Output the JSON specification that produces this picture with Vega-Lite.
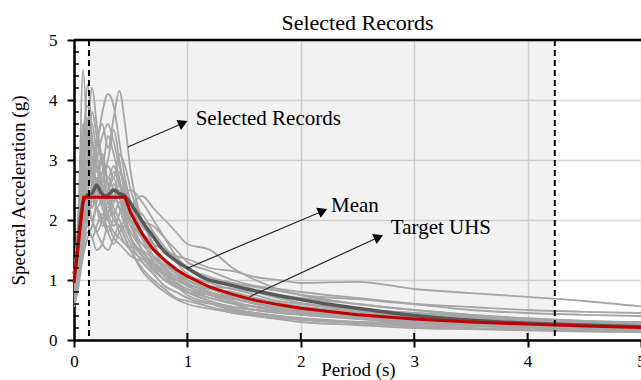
{
"$schema":"https://vega.github.io/schema/vega-lite/v6.json",
"width":567,"height":300,
"autosize":{"type":"none"},
"padding":{"left":74,"top":40,"right":0,"bottom":40},
"background":"white",
"view":{"stroke":null},
"config":{"font":"Liberation Serif",
 "axis":{"domainColor":"black","domainWidth":2.5,"tickColor":"black","tickWidth":2,"tickSize":7,"gridColor":"#d9d9d9","gridWidth":1.5,"labelFont":"Liberation Serif","labelFontSize":17,"labelColor":"black","titleFont":"Liberation Serif","titleFontSize":19,"titleFontWeight":"normal","titleColor":"black","labelFlush":false,"labelOverlap":false}},
"datasets":{
"rec":[
{"r":1,"t":0,"a":0.95},{"r":1,"t":0.04,"a":2.2},{"r":1,"t":0.08,"a":4.5},{"r":1,"t":0.12,"a":3.2},{"r":1,"t":0.16,"a":2.6},{"r":1,"t":0.2,"a":2.9},{"r":1,"t":0.25,"a":2.5},{"r":1,"t":0.3,"a":2.2},{"r":1,"t":0.35,"a":2.6},{"r":1,"t":0.4,"a":2.4},{"r":1,"t":0.45,"a":2.0},{"r":1,"t":0.5,"a":1.8},{"r":1,"t":0.6,"a":1.5},{"r":1,"t":0.7,"a":1.2},{"r":1,"t":0.8,"a":1.0},{"r":1,"t":0.9,"a":0.95},{"r":1,"t":1,"a":0.85},{"r":1,"t":1.2,"a":0.7},{"r":1,"t":1.4,"a":0.6},{"r":1,"t":1.6,"a":0.5},{"r":1,"t":1.8,"a":0.45},{"r":1,"t":2,"a":0.42},{"r":1,"t":2.5,"a":0.35},{"r":1,"t":3,"a":0.28},{"r":1,"t":3.5,"a":0.25},{"r":1,"t":4,"a":0.22},{"r":1,"t":4.5,"a":0.2},{"r":1,"t":5,"a":0.18},
{"r":2,"t":0,"a":0.9},{"r":2,"t":0.04,"a":1.8},{"r":2,"t":0.08,"a":3.0},{"r":2,"t":0.12,"a":4.25},{"r":2,"t":0.16,"a":3.4},{"r":2,"t":0.2,"a":2.8},{"r":2,"t":0.25,"a":3.1},{"r":2,"t":0.3,"a":2.6},{"r":2,"t":0.35,"a":2.3},{"r":2,"t":0.4,"a":2.5},{"r":2,"t":0.45,"a":2.1},{"r":2,"t":0.5,"a":1.7},{"r":2,"t":0.6,"a":1.4},{"r":2,"t":0.7,"a":1.3},{"r":2,"t":0.8,"a":1.1},{"r":2,"t":0.9,"a":0.9},{"r":2,"t":1,"a":0.8},{"r":2,"t":1.2,"a":0.75},{"r":2,"t":1.4,"a":0.62},{"r":2,"t":1.6,"a":0.55},{"r":2,"t":1.8,"a":0.5},{"r":2,"t":2,"a":0.45},{"r":2,"t":2.5,"a":0.38},{"r":2,"t":3,"a":0.3},{"r":2,"t":3.5,"a":0.28},{"r":2,"t":4,"a":0.25},{"r":2,"t":4.5,"a":0.22},{"r":2,"t":5,"a":0.2},
{"r":3,"t":0,"a":0.8},{"r":3,"t":0.04,"a":1.4},{"r":3,"t":0.08,"a":2.2},{"r":3,"t":0.12,"a":2.6},{"r":3,"t":0.16,"a":2.9},{"r":3,"t":0.2,"a":3.3},{"r":3,"t":0.25,"a":3.6},{"r":3,"t":0.3,"a":3.2},{"r":3,"t":0.35,"a":3.7},{"r":3,"t":0.4,"a":4.15},{"r":3,"t":0.45,"a":3.6},{"r":3,"t":0.5,"a":2.8},{"r":3,"t":0.6,"a":2.0},{"r":3,"t":0.7,"a":1.6},{"r":3,"t":0.8,"a":1.3},{"r":3,"t":0.9,"a":1.1},{"r":3,"t":1,"a":0.95},{"r":3,"t":1.2,"a":0.8},{"r":3,"t":1.4,"a":0.7},{"r":3,"t":1.6,"a":0.65},{"r":3,"t":1.8,"a":0.6},{"r":3,"t":2,"a":0.55},{"r":3,"t":2.5,"a":0.45},{"r":3,"t":3,"a":0.38},{"r":3,"t":3.5,"a":0.32},{"r":3,"t":4,"a":0.28},{"r":3,"t":4.5,"a":0.25},{"r":3,"t":5,"a":0.22},
{"r":4,"t":0,"a":0.85},{"r":4,"t":0.04,"a":1.6},{"r":4,"t":0.08,"a":2.5},{"r":4,"t":0.12,"a":3.0},{"r":4,"t":0.16,"a":2.7},{"r":4,"t":0.2,"a":3.2},{"r":4,"t":0.25,"a":3.8},{"r":4,"t":0.3,"a":4.1},{"r":4,"t":0.35,"a":3.9},{"r":4,"t":0.4,"a":3.3},{"r":4,"t":0.45,"a":2.7},{"r":4,"t":0.5,"a":2.3},{"r":4,"t":0.6,"a":1.8},{"r":4,"t":0.7,"a":1.4},{"r":4,"t":0.8,"a":1.2},{"r":4,"t":0.9,"a":1.05},{"r":4,"t":1,"a":0.9},{"r":4,"t":1.2,"a":0.75},{"r":4,"t":1.4,"a":0.62},{"r":4,"t":1.6,"a":0.55},{"r":4,"t":1.8,"a":0.5},{"r":4,"t":2,"a":0.46},{"r":4,"t":2.5,"a":0.4},{"r":4,"t":3,"a":0.34},{"r":4,"t":3.5,"a":0.3},{"r":4,"t":4,"a":0.27},{"r":4,"t":4.5,"a":0.24},{"r":4,"t":5,"a":0.21},
{"r":5,"t":0,"a":0.7},{"r":5,"t":0.04,"a":1.3},{"r":5,"t":0.08,"a":2.4},{"r":5,"t":0.12,"a":3.5},{"r":5,"t":0.16,"a":4.2},{"r":5,"t":0.2,"a":3.6},{"r":5,"t":0.25,"a":3.0},{"r":5,"t":0.3,"a":2.7},{"r":5,"t":0.35,"a":2.9},{"r":5,"t":0.4,"a":2.6},{"r":5,"t":0.45,"a":2.3},{"r":5,"t":0.5,"a":2.0},{"r":5,"t":0.6,"a":1.6},{"r":5,"t":0.7,"a":1.5},{"r":5,"t":0.8,"a":1.3},{"r":5,"t":0.9,"a":1.15},{"r":5,"t":1,"a":1.0},{"r":5,"t":1.2,"a":0.85},{"r":5,"t":1.4,"a":0.75},{"r":5,"t":1.6,"a":0.62},{"r":5,"t":1.8,"a":0.55},{"r":5,"t":2,"a":0.5},{"r":5,"t":2.5,"a":0.42},{"r":5,"t":3,"a":0.35},{"r":5,"t":3.5,"a":0.3},{"r":5,"t":4,"a":0.27},{"r":5,"t":4.5,"a":0.24},{"r":5,"t":5,"a":0.22},
{"r":6,"t":0,"a":0.6},{"r":6,"t":0.04,"a":1.0},{"r":6,"t":0.08,"a":1.5},{"r":6,"t":0.12,"a":1.8},{"r":6,"t":0.16,"a":1.7},{"r":6,"t":0.2,"a":1.5},{"r":6,"t":0.25,"a":1.6},{"r":6,"t":0.3,"a":1.9},{"r":6,"t":0.35,"a":1.7},{"r":6,"t":0.4,"a":1.6},{"r":6,"t":0.45,"a":1.5},{"r":6,"t":0.5,"a":1.4},{"r":6,"t":0.6,"a":1.3},{"r":6,"t":0.7,"a":1.1},{"r":6,"t":0.8,"a":0.9},{"r":6,"t":0.9,"a":0.8},{"r":6,"t":1,"a":0.7},{"r":6,"t":1.2,"a":0.6},{"r":6,"t":1.4,"a":0.5},{"r":6,"t":1.6,"a":0.45},{"r":6,"t":1.8,"a":0.4},{"r":6,"t":2,"a":0.35},{"r":6,"t":2.5,"a":0.28},{"r":6,"t":3,"a":0.22},{"r":6,"t":3.5,"a":0.19},{"r":6,"t":4,"a":0.17},{"r":6,"t":4.5,"a":0.15},{"r":6,"t":5,"a":0.14},
{"r":7,"t":0,"a":0.75},{"r":7,"t":0.04,"a":1.4},{"r":7,"t":0.08,"a":2.0},{"r":7,"t":0.12,"a":2.4},{"r":7,"t":0.16,"a":2.2},{"r":7,"t":0.2,"a":2.5},{"r":7,"t":0.25,"a":2.2},{"r":7,"t":0.3,"a":2.0},{"r":7,"t":0.35,"a":2.3},{"r":7,"t":0.4,"a":2.6},{"r":7,"t":0.45,"a":2.4},{"r":7,"t":0.5,"a":2.2},{"r":7,"t":0.6,"a":1.9},{"r":7,"t":0.7,"a":1.7},{"r":7,"t":0.8,"a":1.5},{"r":7,"t":0.9,"a":1.3},{"r":7,"t":1,"a":1.1},{"r":7,"t":1.2,"a":0.95},{"r":7,"t":1.4,"a":0.85},{"r":7,"t":1.6,"a":0.8},{"r":7,"t":1.8,"a":0.75},{"r":7,"t":2,"a":0.7},{"r":7,"t":2.5,"a":0.6},{"r":7,"t":3,"a":0.5},{"r":7,"t":3.5,"a":0.42},{"r":7,"t":4,"a":0.36},{"r":7,"t":4.5,"a":0.32},{"r":7,"t":5,"a":0.3},
{"r":8,"t":0,"a":1.0},{"r":8,"t":0.04,"a":1.7},{"r":8,"t":0.08,"a":2.6},{"r":8,"t":0.12,"a":3.0},{"r":8,"t":0.16,"a":2.5},{"r":8,"t":0.2,"a":2.2},{"r":8,"t":0.25,"a":2.4},{"r":8,"t":0.3,"a":2.7},{"r":8,"t":0.35,"a":2.5},{"r":8,"t":0.4,"a":2.2},{"r":8,"t":0.45,"a":2.1},{"r":8,"t":0.5,"a":2.0},{"r":8,"t":0.6,"a":1.8},{"r":8,"t":0.7,"a":1.6},{"r":8,"t":0.8,"a":1.5},{"r":8,"t":0.9,"a":1.4},{"r":8,"t":1,"a":1.35},{"r":8,"t":1.2,"a":1.2},{"r":8,"t":1.4,"a":1.15},{"r":8,"t":1.6,"a":1.05},{"r":8,"t":1.8,"a":1.0},{"r":8,"t":2,"a":0.95},{"r":8,"t":2.5,"a":0.97},{"r":8,"t":3,"a":0.85},{"r":8,"t":3.5,"a":0.78},{"r":8,"t":4,"a":0.72},{"r":8,"t":4.5,"a":0.65},{"r":8,"t":5,"a":0.56},
{"r":9,"t":0,"a":0.65},{"r":9,"t":0.04,"a":1.2},{"r":9,"t":0.08,"a":1.9},{"r":9,"t":0.12,"a":2.3},{"r":9,"t":0.16,"a":2.0},{"r":9,"t":0.2,"a":1.8},{"r":9,"t":0.25,"a":1.6},{"r":9,"t":0.3,"a":1.5},{"r":9,"t":0.35,"a":1.7},{"r":9,"t":0.4,"a":1.9},{"r":9,"t":0.45,"a":1.7},{"r":9,"t":0.5,"a":1.5},{"r":9,"t":0.6,"a":1.2},{"r":9,"t":0.7,"a":1.0},{"r":9,"t":0.8,"a":0.85},{"r":9,"t":0.9,"a":0.7},{"r":9,"t":1,"a":0.65},{"r":9,"t":1.2,"a":0.55},{"r":9,"t":1.4,"a":0.45},{"r":9,"t":1.6,"a":0.4},{"r":9,"t":1.8,"a":0.35},{"r":9,"t":2,"a":0.3},{"r":9,"t":2.5,"a":0.25},{"r":9,"t":3,"a":0.2},{"r":9,"t":3.5,"a":0.18},{"r":9,"t":4,"a":0.16},{"r":9,"t":4.5,"a":0.14},{"r":9,"t":5,"a":0.13},
{"r":10,"t":0,"a":0.9},{"r":10,"t":0.04,"a":1.6},{"r":10,"t":0.08,"a":2.8},{"r":10,"t":0.12,"a":3.4},{"r":10,"t":0.16,"a":3.0},{"r":10,"t":0.2,"a":2.6},{"r":10,"t":0.25,"a":2.8},{"r":10,"t":0.3,"a":3.4},{"r":10,"t":0.35,"a":3.1},{"r":10,"t":0.4,"a":2.7},{"r":10,"t":0.45,"a":2.2},{"r":10,"t":0.5,"a":1.9},{"r":10,"t":0.6,"a":1.6},{"r":10,"t":0.7,"a":1.4},{"r":10,"t":0.8,"a":1.25},{"r":10,"t":0.9,"a":1.1},{"r":10,"t":1,"a":1.0},{"r":10,"t":1.2,"a":0.9},{"r":10,"t":1.4,"a":0.85},{"r":10,"t":1.6,"a":0.75},{"r":10,"t":1.8,"a":0.65},{"r":10,"t":2,"a":0.6},{"r":10,"t":2.5,"a":0.5},{"r":10,"t":3,"a":0.45},{"r":10,"t":3.5,"a":0.4},{"r":10,"t":4,"a":0.35},{"r":10,"t":4.5,"a":0.3},{"r":10,"t":5,"a":0.27},
{"r":11,"t":0,"a":0.8},{"r":11,"t":0.04,"a":1.5},{"r":11,"t":0.08,"a":2.1},{"r":11,"t":0.12,"a":2.8},{"r":11,"t":0.16,"a":3.3},{"r":11,"t":0.2,"a":2.9},{"r":11,"t":0.25,"a":2.5},{"r":11,"t":0.3,"a":2.3},{"r":11,"t":0.35,"a":2.1},{"r":11,"t":0.4,"a":2.3},{"r":11,"t":0.45,"a":2.0},{"r":11,"t":0.5,"a":1.7},{"r":11,"t":0.6,"a":1.4},{"r":11,"t":0.7,"a":1.15},{"r":11,"t":0.8,"a":1.0},{"r":11,"t":0.9,"a":0.88},{"r":11,"t":1,"a":0.8},{"r":11,"t":1.2,"a":0.65},{"r":11,"t":1.4,"a":0.55},{"r":11,"t":1.6,"a":0.5},{"r":11,"t":1.8,"a":0.48},{"r":11,"t":2,"a":0.45},{"r":11,"t":2.5,"a":0.4},{"r":11,"t":3,"a":0.35},{"r":11,"t":3.5,"a":0.3},{"r":11,"t":4,"a":0.25},{"r":11,"t":4.5,"a":0.22},{"r":11,"t":5,"a":0.2},
{"r":12,"t":0,"a":0.7},{"r":12,"t":0.04,"a":1.2},{"r":12,"t":0.08,"a":1.7},{"r":12,"t":0.12,"a":2.0},{"r":12,"t":0.16,"a":2.4},{"r":12,"t":0.2,"a":2.7},{"r":12,"t":0.25,"a":2.4},{"r":12,"t":0.3,"a":2.1},{"r":12,"t":0.35,"a":1.9},{"r":12,"t":0.4,"a":2.1},{"r":12,"t":0.45,"a":2.4},{"r":12,"t":0.5,"a":2.5},{"r":12,"t":0.6,"a":2.3},{"r":12,"t":0.7,"a":2.0},{"r":12,"t":0.8,"a":1.7},{"r":12,"t":0.9,"a":1.4},{"r":12,"t":1,"a":1.2},{"r":12,"t":1.2,"a":1.0},{"r":12,"t":1.4,"a":0.9},{"r":12,"t":1.6,"a":0.8},{"r":12,"t":1.8,"a":0.7},{"r":12,"t":2,"a":0.62},{"r":12,"t":2.5,"a":0.52},{"r":12,"t":3,"a":0.45},{"r":12,"t":3.5,"a":0.38},{"r":12,"t":4,"a":0.33},{"r":12,"t":4.5,"a":0.3},{"r":12,"t":5,"a":0.27},
{"r":13,"t":0,"a":0.85},{"r":13,"t":0.04,"a":1.5},{"r":13,"t":0.08,"a":2.3},{"r":13,"t":0.12,"a":2.7},{"r":13,"t":0.16,"a":3.6},{"r":13,"t":0.2,"a":3.1},{"r":13,"t":0.25,"a":2.7},{"r":13,"t":0.3,"a":3.0},{"r":13,"t":0.35,"a":3.5},{"r":13,"t":0.4,"a":3.0},{"r":13,"t":0.45,"a":2.4},{"r":13,"t":0.5,"a":2.1},{"r":13,"t":0.6,"a":1.7},{"r":13,"t":0.7,"a":1.3},{"r":13,"t":0.8,"a":1.05},{"r":13,"t":0.9,"a":0.9},{"r":13,"t":1,"a":0.75},{"r":13,"t":1.2,"a":0.62},{"r":13,"t":1.4,"a":0.52},{"r":13,"t":1.6,"a":0.45},{"r":13,"t":1.8,"a":0.4},{"r":13,"t":2,"a":0.37},{"r":13,"t":2.5,"a":0.3},{"r":13,"t":3,"a":0.26},{"r":13,"t":3.5,"a":0.23},{"r":13,"t":4,"a":0.2},{"r":13,"t":4.5,"a":0.18},{"r":13,"t":5,"a":0.16},
{"r":14,"t":0,"a":0.55},{"r":14,"t":0.04,"a":0.9},{"r":14,"t":0.08,"a":1.4},{"r":14,"t":0.12,"a":1.7},{"r":14,"t":0.16,"a":1.9},{"r":14,"t":0.2,"a":2.2},{"r":14,"t":0.25,"a":2.0},{"r":14,"t":0.3,"a":1.8},{"r":14,"t":0.35,"a":2.0},{"r":14,"t":0.4,"a":1.8},{"r":14,"t":0.45,"a":1.6},{"r":14,"t":0.5,"a":1.55},{"r":14,"t":0.6,"a":1.5},{"r":14,"t":0.7,"a":1.35},{"r":14,"t":0.8,"a":1.2},{"r":14,"t":0.9,"a":1.05},{"r":14,"t":1,"a":0.95},{"r":14,"t":1.2,"a":0.8},{"r":14,"t":1.4,"a":0.65},{"r":14,"t":1.6,"a":0.55},{"r":14,"t":1.8,"a":0.5},{"r":14,"t":2,"a":0.48},{"r":14,"t":2.5,"a":0.42},{"r":14,"t":3,"a":0.36},{"r":14,"t":3.5,"a":0.33},{"r":14,"t":4,"a":0.3},{"r":14,"t":4.5,"a":0.28},{"r":14,"t":5,"a":0.26},
{"r":15,"t":0,"a":1.05},{"r":15,"t":0.04,"a":2.0},{"r":15,"t":0.08,"a":3.4},{"r":15,"t":0.12,"a":3.9},{"r":15,"t":0.16,"a":3.3},{"r":15,"t":0.2,"a":2.9},{"r":15,"t":0.25,"a":2.6},{"r":15,"t":0.3,"a":2.4},{"r":15,"t":0.35,"a":2.2},{"r":15,"t":0.4,"a":2.0},{"r":15,"t":0.45,"a":1.8},{"r":15,"t":0.5,"a":1.6},{"r":15,"t":0.6,"a":1.3},{"r":15,"t":0.7,"a":1.1},{"r":15,"t":0.8,"a":0.9},{"r":15,"t":0.9,"a":0.8},{"r":15,"t":1,"a":0.7},{"r":15,"t":1.2,"a":0.55},{"r":15,"t":1.4,"a":0.48},{"r":15,"t":1.6,"a":0.42},{"r":15,"t":1.8,"a":0.38},{"r":15,"t":2,"a":0.35},{"r":15,"t":2.5,"a":0.3},{"r":15,"t":3,"a":0.27},{"r":15,"t":3.5,"a":0.24},{"r":15,"t":4,"a":0.22},{"r":15,"t":4.5,"a":0.2},{"r":15,"t":5,"a":0.18},
{"r":16,"t":0,"a":0.7},{"r":16,"t":0.04,"a":1.3},{"r":16,"t":0.08,"a":1.9},{"r":16,"t":0.12,"a":2.2},{"r":16,"t":0.16,"a":2.6},{"r":16,"t":0.2,"a":3.0},{"r":16,"t":0.25,"a":3.4},{"r":16,"t":0.3,"a":3.6},{"r":16,"t":0.35,"a":3.3},{"r":16,"t":0.4,"a":2.9},{"r":16,"t":0.45,"a":2.6},{"r":16,"t":0.5,"a":2.3},{"r":16,"t":0.6,"a":2.0},{"r":16,"t":0.7,"a":1.9},{"r":16,"t":0.8,"a":1.7},{"r":16,"t":0.9,"a":1.5},{"r":16,"t":1,"a":1.3},{"r":16,"t":1.2,"a":1.15},{"r":16,"t":1.4,"a":1.0},{"r":16,"t":1.6,"a":0.9},{"r":16,"t":1.8,"a":0.85},{"r":16,"t":2,"a":0.8},{"r":16,"t":2.5,"a":0.7},{"r":16,"t":3,"a":0.6},{"r":16,"t":3.5,"a":0.5},{"r":16,"t":4,"a":0.45},{"r":16,"t":4.5,"a":0.42},{"r":16,"t":5,"a":0.4},
{"r":17,"t":0,"a":0.9},{"r":17,"t":0.04,"a":1.6},{"r":17,"t":0.08,"a":2.4},{"r":17,"t":0.12,"a":2.2},{"r":17,"t":0.16,"a":2.0},{"r":17,"t":0.2,"a":2.3},{"r":17,"t":0.25,"a":2.6},{"r":17,"t":0.3,"a":2.9},{"r":17,"t":0.35,"a":2.7},{"r":17,"t":0.4,"a":3.1},{"r":17,"t":0.45,"a":2.9},{"r":17,"t":0.5,"a":2.5},{"r":17,"t":0.6,"a":2.0},{"r":17,"t":0.7,"a":1.6},{"r":17,"t":0.8,"a":1.3},{"r":17,"t":0.9,"a":1.15},{"r":17,"t":1,"a":1.0},{"r":17,"t":1.2,"a":0.85},{"r":17,"t":1.4,"a":0.72},{"r":17,"t":1.6,"a":0.62},{"r":17,"t":1.8,"a":0.55},{"r":17,"t":2,"a":0.5},{"r":17,"t":2.5,"a":0.42},{"r":17,"t":3,"a":0.36},{"r":17,"t":3.5,"a":0.32},{"r":17,"t":4,"a":0.28},{"r":17,"t":4.5,"a":0.25},{"r":17,"t":5,"a":0.23},
{"r":18,"t":0,"a":0.6},{"r":18,"t":0.04,"a":1.1},{"r":18,"t":0.08,"a":1.6},{"r":18,"t":0.12,"a":1.9},{"r":18,"t":0.16,"a":1.7},{"r":18,"t":0.2,"a":1.9},{"r":18,"t":0.25,"a":2.1},{"r":18,"t":0.3,"a":1.8},{"r":18,"t":0.35,"a":1.6},{"r":18,"t":0.4,"a":1.8},{"r":18,"t":0.45,"a":1.9},{"r":18,"t":0.5,"a":1.7},{"r":18,"t":0.6,"a":1.4},{"r":18,"t":0.7,"a":1.2},{"r":18,"t":0.8,"a":1.1},{"r":18,"t":0.9,"a":1.0},{"r":18,"t":1,"a":0.9},{"r":18,"t":1.2,"a":0.78},{"r":18,"t":1.4,"a":0.72},{"r":18,"t":1.6,"a":0.66},{"r":18,"t":1.8,"a":0.6},{"r":18,"t":2,"a":0.55},{"r":18,"t":2.5,"a":0.46},{"r":18,"t":3,"a":0.4},{"r":18,"t":3.5,"a":0.36},{"r":18,"t":4,"a":0.32},{"r":18,"t":4.5,"a":0.29},{"r":18,"t":5,"a":0.26},
{"r":19,"t":0,"a":0.8},{"r":19,"t":0.04,"a":1.4},{"r":19,"t":0.08,"a":2.2},{"r":19,"t":0.12,"a":3.1},{"r":19,"t":0.16,"a":3.8},{"r":19,"t":0.2,"a":3.4},{"r":19,"t":0.25,"a":2.9},{"r":19,"t":0.3,"a":2.5},{"r":19,"t":0.35,"a":2.7},{"r":19,"t":0.4,"a":2.4},{"r":19,"t":0.45,"a":2.1},{"r":19,"t":0.5,"a":1.9},{"r":19,"t":0.6,"a":1.5},{"r":19,"t":0.7,"a":1.25},{"r":19,"t":0.8,"a":1.1},{"r":19,"t":0.9,"a":0.95},{"r":19,"t":1,"a":0.85},{"r":19,"t":1.2,"a":0.75},{"r":19,"t":1.4,"a":0.68},{"r":19,"t":1.6,"a":0.6},{"r":19,"t":1.8,"a":0.52},{"r":19,"t":2,"a":0.48},{"r":19,"t":2.5,"a":0.38},{"r":19,"t":3,"a":0.32},{"r":19,"t":3.5,"a":0.27},{"r":19,"t":4,"a":0.24},{"r":19,"t":4.5,"a":0.22},{"r":19,"t":5,"a":0.2},
{"r":20,"t":0,"a":0.95},{"r":20,"t":0.04,"a":1.9},{"r":20,"t":0.08,"a":3.6},{"r":20,"t":0.12,"a":3.3},{"r":20,"t":0.16,"a":2.8},{"r":20,"t":0.2,"a":2.4},{"r":20,"t":0.25,"a":2.7},{"r":20,"t":0.3,"a":2.3},{"r":20,"t":0.35,"a":2.0},{"r":20,"t":0.4,"a":1.9},{"r":20,"t":0.45,"a":1.7},{"r":20,"t":0.5,"a":1.5},{"r":20,"t":0.6,"a":1.15},{"r":20,"t":0.7,"a":0.95},{"r":20,"t":0.8,"a":0.8},{"r":20,"t":0.9,"a":0.68},{"r":20,"t":1,"a":0.6},{"r":20,"t":1.2,"a":0.52},{"r":20,"t":1.4,"a":0.46},{"r":20,"t":1.6,"a":0.4},{"r":20,"t":1.8,"a":0.36},{"r":20,"t":2,"a":0.33},{"r":20,"t":2.5,"a":0.28},{"r":20,"t":3,"a":0.24},{"r":20,"t":3.5,"a":0.2},{"r":20,"t":4,"a":0.18},{"r":20,"t":4.5,"a":0.16},{"r":20,"t":5,"a":0.15},
{"r":21,"t":0,"a":0.75},{"r":21,"t":0.04,"a":1.3},{"r":21,"t":0.08,"a":2.0},{"r":21,"t":0.12,"a":2.5},{"r":21,"t":0.16,"a":2.3},{"r":21,"t":0.2,"a":2.6},{"r":21,"t":0.25,"a":3.0},{"r":21,"t":0.3,"a":2.6},{"r":21,"t":0.35,"a":2.4},{"r":21,"t":0.4,"a":2.8},{"r":21,"t":0.45,"a":2.5},{"r":21,"t":0.5,"a":2.2},{"r":21,"t":0.6,"a":2.1},{"r":21,"t":0.7,"a":1.8},{"r":21,"t":0.8,"a":1.55},{"r":21,"t":0.9,"a":1.35},{"r":21,"t":1,"a":1.2},{"r":21,"t":1.2,"a":1.05},{"r":21,"t":1.4,"a":0.95},{"r":21,"t":1.6,"a":0.88},{"r":21,"t":1.8,"a":0.82},{"r":21,"t":2,"a":0.75},{"r":21,"t":2.5,"a":0.68},{"r":21,"t":3,"a":0.6},{"r":21,"t":3.5,"a":0.55},{"r":21,"t":4,"a":0.5},{"r":21,"t":4.5,"a":0.47},{"r":21,"t":5,"a":0.45},
{"r":22,"t":0,"a":0.65},{"r":22,"t":0.04,"a":1.2},{"r":22,"t":0.08,"a":1.8},{"r":22,"t":0.12,"a":2.1},{"r":22,"t":0.16,"a":2.5},{"r":22,"t":0.2,"a":2.2},{"r":22,"t":0.25,"a":1.9},{"r":22,"t":0.3,"a":2.1},{"r":22,"t":0.35,"a":2.4},{"r":22,"t":0.4,"a":2.2},{"r":22,"t":0.45,"a":1.9},{"r":22,"t":0.5,"a":1.7},{"r":22,"t":0.6,"a":1.45},{"r":22,"t":0.7,"a":1.3},{"r":22,"t":0.8,"a":1.15},{"r":22,"t":0.9,"a":0.95},{"r":22,"t":1,"a":0.8},{"r":22,"t":1.2,"a":0.65},{"r":22,"t":1.4,"a":0.55},{"r":22,"t":1.6,"a":0.5},{"r":22,"t":1.8,"a":0.46},{"r":22,"t":2,"a":0.42},{"r":22,"t":2.5,"a":0.36},{"r":22,"t":3,"a":0.3},{"r":22,"t":3.5,"a":0.26},{"r":22,"t":4,"a":0.23},{"r":22,"t":4.5,"a":0.21},{"r":22,"t":5,"a":0.19},
{"r":23,"t":0,"a":0.85},{"r":23,"t":0.04,"a":1.7},{"r":23,"t":0.08,"a":2.9},{"r":23,"t":0.12,"a":3.7},{"r":23,"t":0.16,"a":3.0},{"r":23,"t":0.2,"a":2.6},{"r":23,"t":0.25,"a":2.3},{"r":23,"t":0.3,"a":2.5},{"r":23,"t":0.35,"a":2.8},{"r":23,"t":0.4,"a":2.6},{"r":23,"t":0.45,"a":2.3},{"r":23,"t":0.5,"a":2.0},{"r":23,"t":0.6,"a":1.7},{"r":23,"t":0.7,"a":1.5},{"r":23,"t":0.8,"a":1.2},{"r":23,"t":0.9,"a":1.0},{"r":23,"t":1,"a":0.92},{"r":23,"t":1.2,"a":0.85},{"r":23,"t":1.4,"a":0.8},{"r":23,"t":1.6,"a":0.7},{"r":23,"t":1.8,"a":0.62},{"r":23,"t":2,"a":0.56},{"r":23,"t":2.5,"a":0.48},{"r":23,"t":3,"a":0.42},{"r":23,"t":3.5,"a":0.37},{"r":23,"t":4,"a":0.33},{"r":23,"t":4.5,"a":0.3},{"r":23,"t":5,"a":0.27},
{"r":24,"t":0,"a":0.7},{"r":24,"t":0.04,"a":1.2},{"r":24,"t":0.08,"a":1.8},{"r":24,"t":0.12,"a":2.4},{"r":24,"t":0.16,"a":2.9},{"r":24,"t":0.2,"a":2.5},{"r":24,"t":0.25,"a":2.3},{"r":24,"t":0.3,"a":2.0},{"r":24,"t":0.35,"a":1.8},{"r":24,"t":0.4,"a":1.7},{"r":24,"t":0.45,"a":1.6},{"r":24,"t":0.5,"a":1.5},{"r":24,"t":0.6,"a":1.35},{"r":24,"t":0.7,"a":1.2},{"r":24,"t":0.8,"a":1.0},{"r":24,"t":0.9,"a":0.88},{"r":24,"t":1,"a":0.8},{"r":24,"t":1.2,"a":0.7},{"r":24,"t":1.4,"a":0.62},{"r":24,"t":1.6,"a":0.56},{"r":24,"t":1.8,"a":0.5},{"r":24,"t":2,"a":0.45},{"r":24,"t":2.5,"a":0.37},{"r":24,"t":3,"a":0.32},{"r":24,"t":3.5,"a":0.28},{"r":24,"t":4,"a":0.25},{"r":24,"t":4.5,"a":0.23},{"r":24,"t":5,"a":0.21},
{"r":25,"t":0,"a":0.7},{"r":25,"t":0.04,"a":1.2},{"r":25,"t":0.08,"a":1.8},{"r":25,"t":0.12,"a":2.2},{"r":25,"t":0.16,"a":2.0},{"r":25,"t":0.2,"a":1.8},{"r":25,"t":0.25,"a":2.0},{"r":25,"t":0.3,"a":2.3},{"r":25,"t":0.35,"a":2.1},{"r":25,"t":0.4,"a":1.9},{"r":25,"t":0.45,"a":2.0},{"r":25,"t":0.5,"a":2.2},{"r":25,"t":0.6,"a":2.4},{"r":25,"t":0.7,"a":2.2},{"r":25,"t":0.8,"a":2.0},{"r":25,"t":0.9,"a":1.8},{"r":25,"t":1,"a":1.6},{"r":25,"t":1.2,"a":1.5},{"r":25,"t":1.4,"a":1.2},{"r":25,"t":1.6,"a":1.0},{"r":25,"t":1.8,"a":0.85},{"r":25,"t":2,"a":0.75},{"r":25,"t":2.5,"a":0.6},{"r":25,"t":3,"a":0.5},{"r":25,"t":3.5,"a":0.42},{"r":25,"t":4,"a":0.36},{"r":25,"t":4.5,"a":0.32},{"r":25,"t":5,"a":0.28}
],
"mean":[{"t":0,"a":1.1},{"t":0.02,"a":1.3},{"t":0.05,"a":1.9},{"t":0.08,"a":2.3},{"t":0.12,"a":2.42},{"t":0.16,"a":2.45},{"t":0.2,"a":2.58},{"t":0.24,"a":2.45},{"t":0.28,"a":2.4},{"t":0.32,"a":2.45},{"t":0.35,"a":2.5},{"t":0.4,"a":2.44},{"t":0.45,"a":2.4},{"t":0.5,"a":2.28},{"t":0.6,"a":1.98},{"t":0.7,"a":1.72},{"t":0.8,"a":1.47},{"t":0.9,"a":1.32},{"t":1.0,"a":1.2},{"t":1.15,"a":1.03},{"t":1.35,"a":0.93},{"t":1.65,"a":0.8},{"t":1.95,"a":0.69},{"t":2.2,"a":0.61},{"t":2.5,"a":0.53},{"t":3.0,"a":0.41},{"t":3.5,"a":0.33},{"t":4.0,"a":0.28},{"t":4.5,"a":0.25},{"t":5.0,"a":0.22}],
"uhs":[{"t":0,"a":0.95},{"t":0.085,"a":2.38},{"t":0.45,"a":2.38},{"t":0.5,"a":2.12},{"t":0.6,"a":1.77},{"t":0.7,"a":1.51},{"t":0.8,"a":1.33},{"t":0.9,"a":1.18},{"t":1.0,"a":1.06},{"t":1.2,"a":0.88},{"t":1.4,"a":0.76},{"t":1.6,"a":0.66},{"t":1.8,"a":0.59},{"t":2.0,"a":0.53},{"t":2.5,"a":0.42},{"t":3.0,"a":0.35},{"t":3.5,"a":0.3},{"t":4.0,"a":0.265},{"t":4.5,"a":0.235},{"t":5.0,"a":0.21}],
"notes":[{"x1":0.475,"y1":3.217,"x2":0.97,"y2":3.62,"hx":0.962,"hy":3.617,"lx":1.073,"ly":3.583,"s":"Selected Records"},{"x1":0.994,"y1":1.192,"x2":2.2,"y2":2.155,"hx":2.194,"hy":2.152,"lx":2.266,"ly":2.138,"s":"Mean"},{"x1":1.548,"y1":0.722,"x2":2.69,"y2":1.718,"hx":2.687,"hy":1.715,"lx":2.794,"ly":1.767,"s":"Target UHS"}],
"ttl":[{"x":2.5,"y":5.167,"s":"Selected Records"}],
"minor":[{"v":0.2},{"v":0.4},{"v":0.6},{"v":0.8},{"v":1.2},{"v":1.4},{"v":1.6},{"v":1.8},{"v":2.2},{"v":2.4},{"v":2.6},{"v":2.8},{"v":3.2},{"v":3.4},{"v":3.6},{"v":3.8},{"v":4.2},{"v":4.4},{"v":4.6},{"v":4.8}],
"xt":[{"v":1},{"v":2},{"v":3},{"v":4}],
"band":[{"x0":0.132,"x1":4.24}],
"dash":[{"v":0.132},{"v":4.24}]
},
"layer":[
{"data":{"name":"band"},"mark":{"type":"rect","fill":"black","opacity":0.05},
 "encoding":{"x":{"field":"x0","type":"quantitative","scale":{"domain":[0,5],"nice":false,"zero":false},"axis":{"title":"Period (s)","values":[0,1,2,3,4,5],"format":"d","grid":true,"labelPadding":6,"labelFont":"Liberation Serif","labelFontSize":17,"titleFont":"Liberation Serif","titleFontWeight":"normal","titleFontSize":19,"titleX":284,"titleY":35,"titleBaseline":"alphabetic","titleAlign":"center"}},"x2":{"field":"x1"}}},
{"data":{"name":"rec"},"mark":{"type":"line","color":"#a6a6a6","strokeWidth":1.8,"interpolate":"monotone","clip":true},
 "encoding":{"x":{"field":"t","type":"quantitative"},"y":{"field":"a","type":"quantitative","scale":{"domain":[0,5],"nice":false,"zero":false},"axis":{"title":"Spectral Acceleration (g)","values":[0,1,2,3,4,5],"format":"d","grid":true,"labelPadding":10,"labelFont":"Liberation Serif","labelFontSize":17,"titleFont":"Liberation Serif","titleFontWeight":"normal","titleFontSize":19,"titleX":-50,"titleY":150,"titleAngle":-90,"titleBaseline":"alphabetic","titleAlign":"center"}},"detail":{"field":"r","type":"nominal"}}},
{"data":{"name":"mean"},"mark":{"type":"line","color":"#595959","strokeWidth":3.5,"interpolate":"monotone"},
 "encoding":{"x":{"field":"t","type":"quantitative"},"y":{"field":"a","type":"quantitative"}}},
{"data":{"name":"uhs"},"mark":{"type":"line","color":"#c00000","strokeWidth":3},
 "encoding":{"x":{"field":"t","type":"quantitative"},"y":{"field":"a","type":"quantitative"}}},
{"data":{"name":"dash"},"mark":{"type":"rule","color":"black","strokeWidth":2,"strokeDash":[6,4]},
 "encoding":{"x":{"field":"v","type":"quantitative"}}},
{"data":{"name":"minor"},"mark":{"type":"rule","color":"black","strokeWidth":1.5},
 "encoding":{"y":{"field":"v","type":"quantitative"},"x":{"datum":0,"type":"quantitative"},"x2":{"datum":0.044}}},
{"data":{"name":"xt"},"mark":{"type":"rule","color":"black","strokeWidth":2},
 "encoding":{"x":{"field":"v","type":"quantitative"},"y":{"datum":0,"type":"quantitative"},"y2":{"datum":0.117}}},
{"data":{"values":[{"v":5}]},"mark":{"type":"rule","color":"black","strokeWidth":2.5},
 "encoding":{"y":{"field":"v","type":"quantitative"}}},
{"data":{"name":"notes"},"mark":{"type":"rule","color":"#262626","strokeWidth":1.2},
 "encoding":{"x":{"field":"x1","type":"quantitative"},"y":{"field":"y1","type":"quantitative"},"x2":{"field":"x2"},"y2":{"field":"y2"}}},
{"data":{"name":"notes"},"mark":{"type":"point","shape":"triangle-right","filled":true,"color":"black","opacity":1,"size":120,"angle":336},
 "encoding":{"x":{"field":"hx","type":"quantitative"},"y":{"field":"hy","type":"quantitative"}}},
{"data":{"name":"notes"},"mark":{"type":"text","align":"left","baseline":"alphabetic","font":"Liberation Serif","fontSize":21,"color":"black"},
 "encoding":{"x":{"field":"lx","type":"quantitative"},"y":{"field":"ly","type":"quantitative"},"text":{"field":"s"}}},
{"data":{"name":"ttl"},"mark":{"type":"text","align":"center","baseline":"alphabetic","font":"Liberation Serif","fontSize":22,"color":"black","clip":false},
 "encoding":{"x":{"field":"x","type":"quantitative"},"y":{"field":"y","type":"quantitative"},"text":{"field":"s"}}}
]
}
